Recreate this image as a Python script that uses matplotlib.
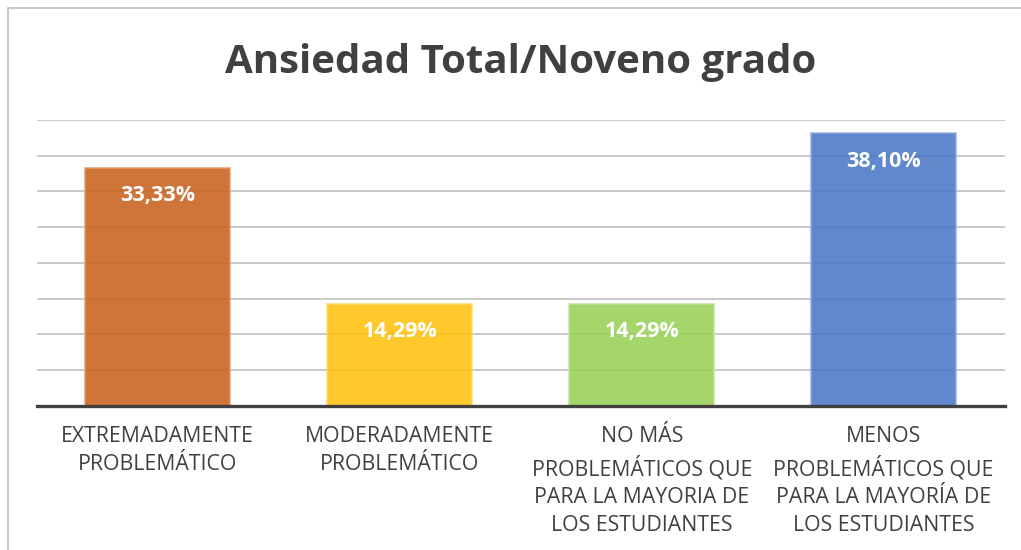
import matplotlib.pyplot as plt
from matplotlib.patches import Rectangle

categorias = ["EXTREMADAMENTE\nPROBLEMÁTICO",
              "MODERADAMENTE\nPROBLEMÁTICO",
              "NO MÁS\nPROBLEMÁTICOS QUE\nPARA LA MAYORIA DE\nLOS ESTUDIANTES",
              "MENOS\nPROBLEMÁTICOS QUE\nPARA LA MAYORÍA DE\nLOS ESTUDIANTES"]
valores = [33.33, 14.29, 14.29, 38.10]
etiquetas = ["33,33%", "14,29%", "14,29%", "38,10%"]
colores = ["#C9621F", "#FFC20E", "#98D158", "#4A78C6"]
bordes = ["#E39A6C", "#FFD86A", "#BFE39A", "#8FAEE0"]

plt.rcParams['font.family'] = ['Open Sans', 'DejaVu Sans']

fig = plt.figure(figsize=(10.21, 5.5), dpi=100)
ax = fig.add_axes([0.036, 0.262, 0.948, 0.52])

x = range(len(valores))
bars = ax.bar(x, valores, width=0.6, color=colores, alpha=0.88,
              edgecolor=bordes, linewidth=1.2, zorder=3)

for b, t in zip(bars, etiquetas):
    ax.annotate(t, (b.get_x() + b.get_width() / 2, b.get_height()),
                xytext=(0, -28), textcoords='offset pixels',
                ha='center', va='center', color='white',
                fontsize=15.5, fontweight='bold', zorder=4)

ax.set_ylim(0, 40)
ax.set_xlim(-0.5, 3.5)
ax.set_yticks(range(0, 41, 5))
ax.yaxis.grid(True, color='#c6c6c6', linewidth=1.3, zorder=0)
ax.set_axisbelow(True)
ax.tick_params(axis='y', left=False, labelleft=False)
ax.tick_params(axis='x', bottom=False, pad=11)
ax.set_xticks(list(x))
ax.set_xticklabels(categorias, fontsize=15.3, color='#404040', linespacing=1.44, va='top')
for s in ['top', 'right', 'left']:
    ax.spines[s].set_visible(False)
ax.spines['bottom'].set_color('#404040')
ax.spines['bottom'].set_linewidth(2.4)
ax.spines['bottom'].set_zorder(5)

fig.text(0.51, 0.887, "Ansiedad Total/Noveno grado", ha='center', va='center',
         fontsize=29, fontweight='bold', color='#404040')

fig.patches.append(Rectangle((8 / 1021, -0.1), 1.2, 1 - 8 / 550 + 0.1,
                             transform=fig.transFigure, fill=False,
                             edgecolor='#bfbfbf', linewidth=1.2))

fig.savefig("out.png", dpi=100)
